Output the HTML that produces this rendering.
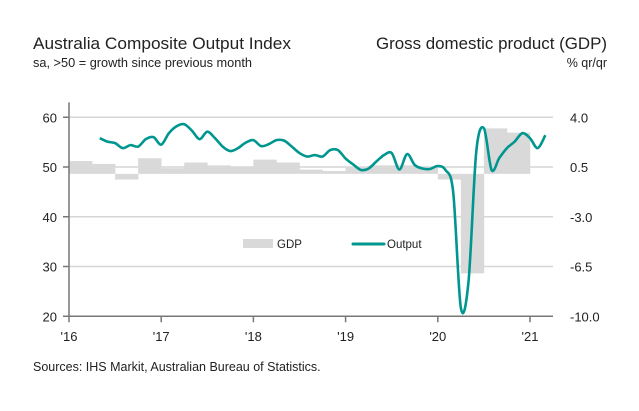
<!DOCTYPE html>
<html><head><meta charset="utf-8"><style>
html,body{margin:0;padding:0;background:#fff;}
svg{display:block;font-family:"Liberation Sans",sans-serif;}
</style></head><body>
<svg id="chart" width="639" height="411" viewBox="0 0 639 411" xmlns="http://www.w3.org/2000/svg">
<text x="33" y="49" font-size="17" fill="#222" textLength="258" lengthAdjust="spacingAndGlyphs">Australia Composite Output Index</text>
<text x="33" y="67" font-size="12.5" fill="#222" textLength="219" lengthAdjust="spacingAndGlyphs">sa, &gt;50 = growth since previous month</text>
<text x="607" y="49" font-size="17" fill="#222" text-anchor="end" textLength="231" lengthAdjust="spacingAndGlyphs">Gross domestic product (GDP)</text>
<text x="607" y="67" font-size="12.5" fill="#222" text-anchor="end">% qr/qr</text>
<g id="grid"></g>
<g id="bars"></g>
<g id="line"></g>
<g id="axes"></g>
<g>
<rect x="243" y="239" width="30" height="9" fill="#d9d9d9"/>
<text x="277" y="248" font-size="11.5" fill="#222">GDP</text>
<line x1="353" y1="244" x2="384" y2="244" stroke="#009690" stroke-width="3" stroke-linecap="round"/>
<text x="387" y="248" font-size="11.5" fill="#222">Output</text>
</g>
<text x="33" y="371" font-size="12.5" fill="#222">Sources: IHS Markit, Australian Bureau of Statistics.</text>
</svg>
<script>
const leftTicks=[60,50,40,30,20];
const rightTicks=["4.0","0.5","-3.0","-6.5","-10.0"];
const yearLabels=["'16","'17","'18","'19","'20","'21"];
const gdpValues=[0.9,0.7,-0.4,1.1,0.4,0.8,0.6,0.5,1.0,0.8,0.3,0.2,0.5,0.6,0.6,0.5,-0.4,-7.0,3.2,2.9];
const outputStartMonth=4;
const outputValues=[55.8,55.1,54.8,53.8,54.4,54.1,55.6,56.0,54.5,56.8,58.2,58.6,57.3,55.6,57.1,55.8,54.1,53.2,53.8,54.9,55.4,54.2,54.6,55.4,55.3,54.1,52.8,52.1,52.4,52.1,53.4,53.4,51.7,50.5,49.4,49.7,51.1,52.4,52.8,49.5,52.6,50.4,49.7,49.6,50.2,49.4,45.0,21.7,27.0,53.0,57.8,49.4,51.8,53.8,55.1,56.8,55.8,53.8,56.4];
const NS="http://www.w3.org/2000/svg";
const X0=69,X1=553,yearW=92.2;
const yL=v=>167-(v-50)*4.975;
const yR=v=>117+(4-v)*(199/14);
const xM=m=>X0+m*yearW/12;
function mk(tag,attrs,parent){const e=document.createElementNS(NS,tag);for(const k in attrs)e.setAttribute(k,attrs[k]);parent.appendChild(e);return e;}
const grid=document.getElementById('grid'),bars=document.getElementById('bars'),line=document.getElementById('line'),axes=document.getElementById('axes');
leftTicks.forEach((t,i)=>{
 const y=yL(t);
 if(i<leftTicks.length-1){const g=mk('line',{x1:X0,x2:X1,y1:y,y2:y,stroke:'#d6d6d6','stroke-width':1.5},grid);
 
 }
 const tk=mk('line',{x1:X0-6,x2:X0,y1:y,y2:y,stroke:'#777','stroke-width':1.5},axes);
 
 
 const tx=mk('text',{x:57,y:y+5,'font-size':13,fill:'#222','text-anchor':'end'},axes);tx.textContent=t;
 
 
 const rx=mk('text',{x:570,y:y+5,'font-size':13,fill:'#222'},axes);rx.textContent=rightTicks[i];
 
 
});
const qW=yearW/4;
gdpValues.forEach((v,i)=>{
 const y0=yR(0),y1=yR(v);
 const r=mk('rect',{x:X0+i*qW,y:Math.min(y0,y1),width:qW+0.3,height:Math.abs(y1-y0),fill:'#d9d9d9'},bars);
 
 
});
const pts=outputValues.map((v,i)=>[xM(outputStartMonth+i),yL(v)]);
let d='M'+pts[0][0]+','+pts[0][1];
for(let i=0;i<pts.length-1;i++){const p0=pts[Math.max(0,i-1)],p1=pts[i],p2=pts[i+1],p3=pts[Math.min(pts.length-1,i+2)];const t=0.16;
 d+=' C'+(p1[0]+(p2[0]-p0[0])*t)+','+(p1[1]+(p2[1]-p0[1])*t)+' '+(p2[0]-(p3[0]-p1[0])*t)+','+(p2[1]-(p3[1]-p1[1])*t)+' '+p2[0]+','+p2[1];}
const pl=mk('path',{d:d,fill:'none',stroke:'#009690','stroke-width':2.6,'stroke-linejoin':'round'},line);


const la=mk('line',{x1:X0,x2:X0,y1:yL(63),y2:yL(20),stroke:'#777','stroke-width':1.5},axes);


const xa=mk('line',{x1:X0,x2:X1,y1:yL(20),y2:yL(20),stroke:'#777','stroke-width':1.5},axes);


yearLabels.forEach((lab,i)=>{
 const x=X0+i*yearW;
 const tk=mk('line',{x1:x,x2:x,y1:yL(20),y2:yL(20)+6,stroke:'#777','stroke-width':1.5},axes);
 
 
 const tx=mk('text',{x:x,y:341,'font-size':13,fill:'#222','text-anchor':'middle'},axes);tx.textContent=lab;
 
 
});
</script>
</body></html>
